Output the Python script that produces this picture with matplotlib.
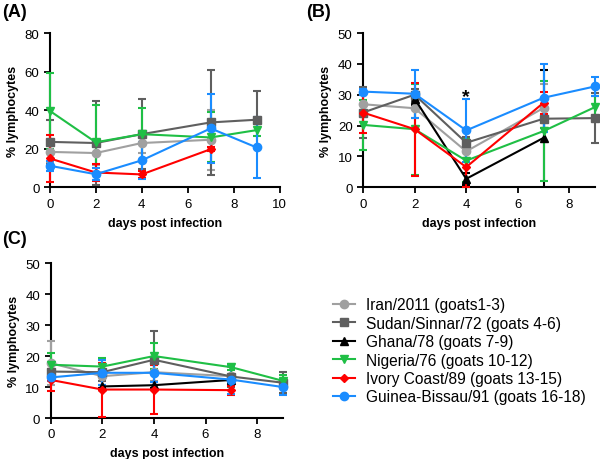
import matplotlib
matplotlib.use("Agg")
from matplotlib import pyplot as plt
from matplotlib.lines import Line2D
import numpy as np

plt.rcParams['font.family'] = ['Liberation Sans', 'DejaVu Sans']

nan = np.nan
days = [0, 2, 4, 7, 9]

strains = ['Iran/2011 (goats1-3)', 'Sudan/Sinnar/72 (goats 4-6)', 'Ghana/78 (goats 7-9)',
           'Nigeria/76 (goats 10-12)', 'Ivory Coast/89 (goats 13-15)',
           'Guinea-Bissau/91 (goats 16-18)']
colors = ['#a0a0a0', '#5f5f5f', '#000000', '#1fbf45', '#ff0000', '#1a8cff']
markers = ['o', 's', '^', 'v', 'D', 'o']

# panel A - mean % lymphocytes per strain (same order as strains)
a_means = [[18.3, 17.7, 22.9, 24.6, nan],
           [23.5, 22.9, 27.5, 33.6, 35.0],
           [nan, nan, nan, nan, nan],
           [39.6, 23.3, 27.5, 25.8, 29.6],
           [14.9, 7.6, 6.6, 19.7, nan],
           [11.1, 6.7, 13.9, 30.5, 20.6]]
a_err = [[5, 6, 5, 15.5, nan],
         [11.5, 21.6, 18.2, 27.3, 14.7],
         [nan, nan, nan, nan, nan],
         [19.6, 19.4, 13.7, 13, 3],
         [12.3, 4.3, 2, 1, nan],
         [2.5, 3, 9.7, 18, 15.8]]

# panel B
b_means = [[26.9, 25.6, 11.6, 25.7, nan],
           [24.2, 30.0, 14.4, 22.2, 22.4],
           [nan, 28.7, 2.7, 16.0, nan],
           [20.2, 18.8, 8.6, 18.2, 26.0],
           [24.2, 18.8, 6.5, 27.4, nan],
           [31.0, 30.3, 18.4, 29.0, 32.7]]
b_err = [[3, 3.2, 2, 7.8, nan],
         [8.3, 2, 2, 3, 8.1],
         [nan, 2, 2, 21.9, nan],
         [8.1, 14.7, 7, 16.2, 3.5],
         [6.5, 15.1, 6.5, 3.6, nan],
         [1, 7.8, 10.3, 11, 3]]

# panel C
c_means = [[17.7, 13.5, 14.8, 13.5, nan],
           [15.0, 14.8, 18.8, 13.4, 11.4],
           [nan, 10.2, 10.6, 12.3, nan],
           [17.2, 16.6, 20.0, 16.4, 12.0],
           [12.3, 9.2, 9.2, 9.0, nan],
           [13.1, 14.6, 14.6, 12.4, 10.0]]
c_err = [[7, 4, 3, 3, nan],
         [3, 3, 9.2, 3.4, 3.4],
         [nan, 0.5, 1, 1, nan],
         [3.9, 2.8, 4.3, 1, 2],
         [3.5, 8.7, 7.8, 1.5, nan],
         [1, 4, 3, 4.5, 2.5]]


def msize(mk):
    return 4.5 if mk == 'D' else 6


def draw_panel(ax, means, errs, xmax, ymax, ystep, xticks):
    for i in range(len(strains)):
        m = np.array(means[i], dtype=float)
        e = np.array(errs[i], dtype=float)
        ok = ~np.isnan(m)
        if not ok.any():
            continue
        x = np.array(days)[ok]
        ax.errorbar(x, m[ok], yerr=e[ok], color=colors[i], marker=markers[i],
                    markersize=msize(markers[i]), lw=1.5,
                    elinewidth=1.5, capsize=3, capthick=1.5,
                    clip_on=False if i != 2 else True, zorder=3)
    ax.set_xlim(0, xmax)
    ax.set_ylim(0, ymax)
    ax.set_yticks(np.arange(0, ymax + 1, ystep))
    ax.set_xticks(xticks)
    ax.spines['top'].set_visible(False)
    ax.spines['right'].set_visible(False)
    for s in ['left', 'bottom']:
        ax.spines[s].set_linewidth(1.5)
    ax.tick_params(direction='out', width=1.3, length=4, labelsize=9.5)
    ax.set_xlabel('days post infection', fontsize=9, fontweight='bold', labelpad=5)
    ax.set_ylabel('% lymphocytes', fontsize=9, fontweight='bold', labelpad=4)


fig = plt.figure(figsize=(6, 4.6), dpi=100)
ax_a = fig.add_axes([0.083, 0.591, 0.383, 0.335])
ax_b = fig.add_axes([0.605, 0.591, 0.387, 0.335])
ax_c = fig.add_axes([0.0845, 0.089, 0.387, 0.337])

draw_panel(ax_a, a_means, a_err, 10, 80, 20, [0, 2, 4, 6, 8, 10])
draw_panel(ax_b, b_means, b_err, 9, 50, 10, [0, 2, 4, 6, 8])
draw_panel(ax_c, c_means, c_err, 9, 50, 10, [0, 2, 4, 6, 8])

ax_b.text(4, 29.5, '*', ha='center', va='center', fontsize=14, fontweight='bold')

fig.text(0.003, 0.992, '(A)', fontsize=13, fontweight='bold', va='top')
fig.text(0.51, 0.992, '(B)', fontsize=13, fontweight='bold', va='top')
fig.text(0.003, 0.497, '(C)', fontsize=13, fontweight='bold', va='top')

handles = [Line2D([], [], color=colors[i], marker=markers[i], lw=1.5,
                  markersize=msize(markers[i])) for i in range(len(strains))]
fig.legend(handles, strains, loc='upper left', bbox_to_anchor=(0.545, 0.365),
           frameon=False, fontsize=11.2, handlelength=1.4, handletextpad=0.7,
           labelspacing=0.22, borderaxespad=0)

fig.savefig('out.png', dpi=100)
